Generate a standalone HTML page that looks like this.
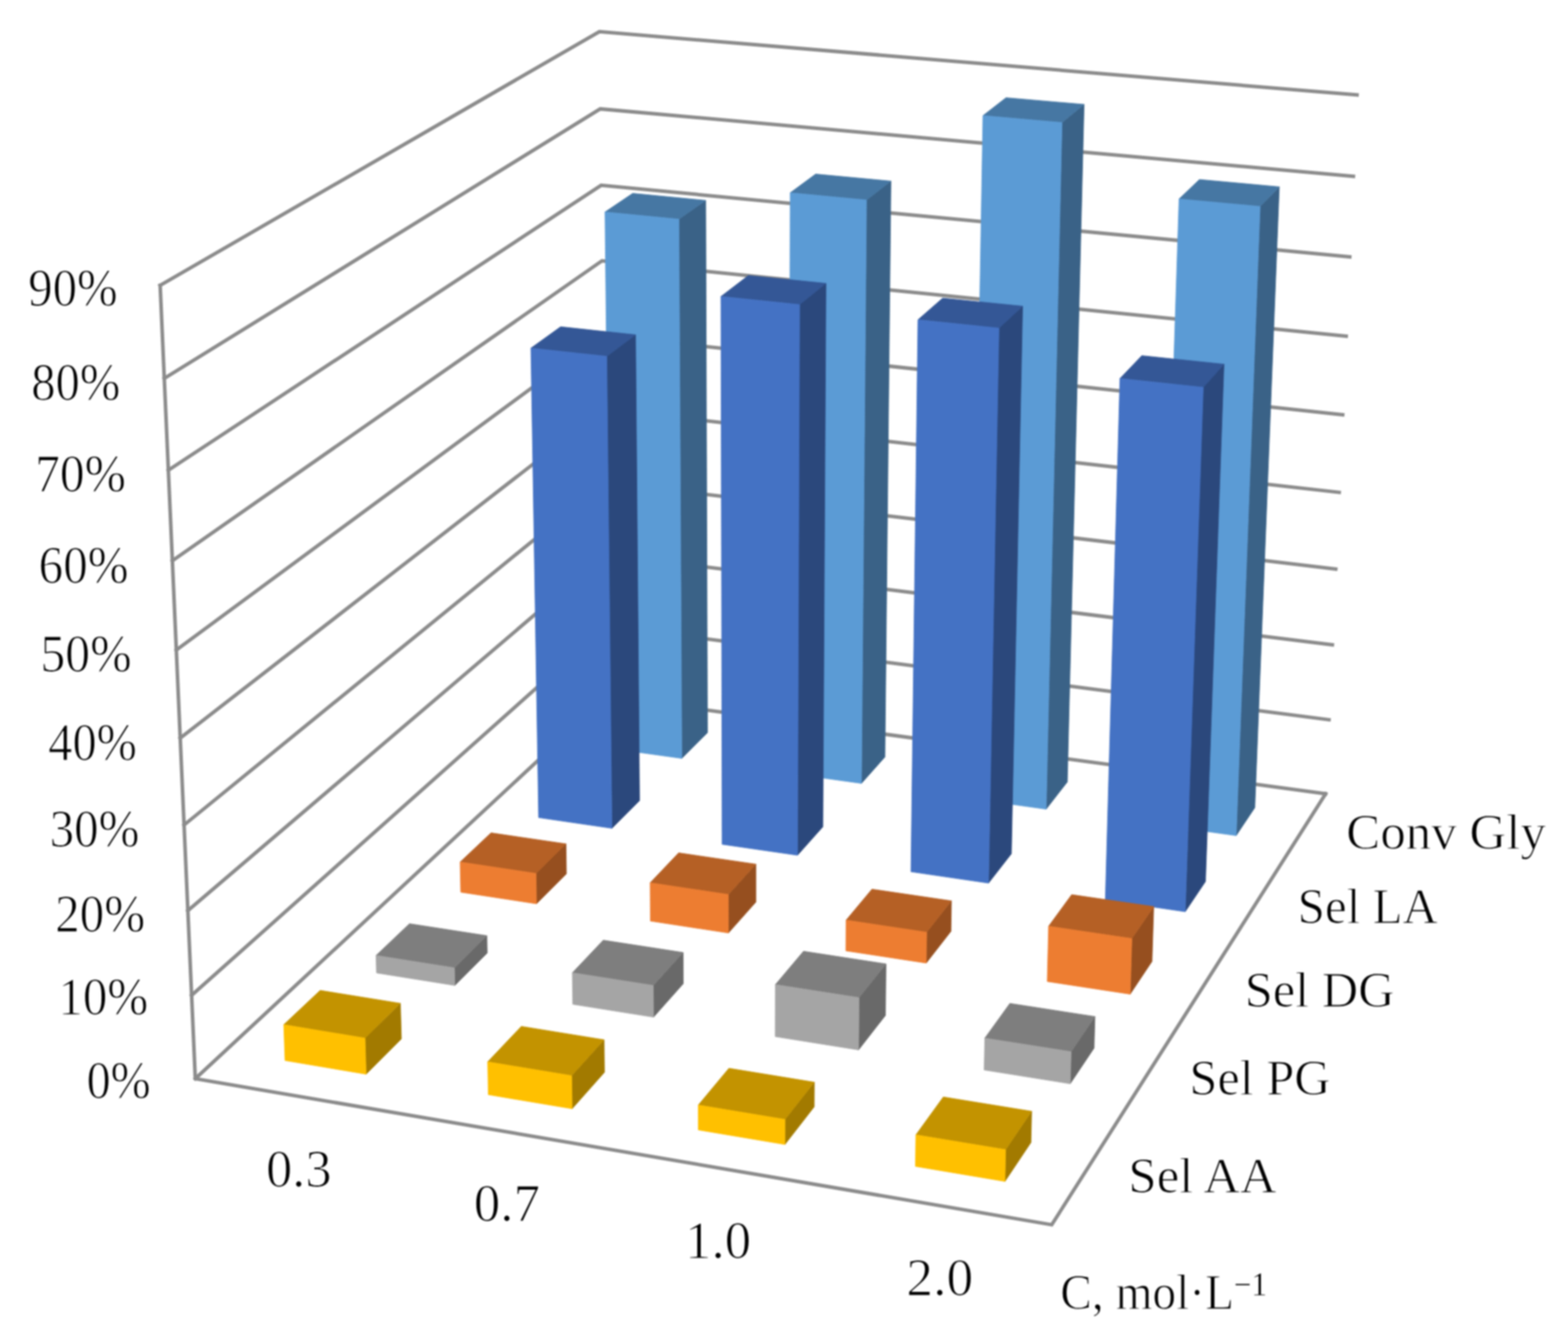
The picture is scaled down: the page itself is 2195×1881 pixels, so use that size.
<!DOCTYPE html>
<html lang="en">
<head>
<meta charset="utf-8">
<title>Conversion and selectivity vs. concentration</title>
<style>
html,body{margin:0;padding:0;background:#fff;}
body{width:2195px;height:1881px;overflow:hidden;}
svg{display:block;}
</style>
</head>
<body>
<svg width="2195" height="1881" viewBox="0 0 2195 1881">
<rect width="2195" height="1881" fill="#fff"/>
<defs><filter id="soft" x="0" y="0" width="2195" height="1881" filterUnits="userSpaceOnUse" color-interpolation-filters="sRGB"><feGaussianBlur stdDeviation="1.10"/></filter></defs>
<g filter="url(#soft)">
<g fill="none" stroke="#8b8b8b" stroke-width="5.00" stroke-linecap="square" stroke-linejoin="miter">
<polyline points="273.4,1509.7 849.5,974.9 1855.7,1111.0"/>
<polyline points="268.3,1392.9 848.4,876.0 1860.4,1007.3"/>
<polyline points="263.0,1274.5 847.3,776.0 1865.1,902.5"/>
<polyline points="257.7,1154.6 846.2,675.0 1869.9,796.4"/>
<polyline points="252.3,1033.0 845.0,572.8 1874.7,689.1"/>
<polyline points="246.8,909.7 843.9,469.5 1879.6,580.5"/>
<polyline points="241.3,784.8 842.7,365.0 1884.5,470.6"/>
<polyline points="235.7,658.1 841.5,259.3 1889.5,359.4"/>
<polyline points="230.0,529.6 840.3,152.4 1894.6,246.8"/>
<polyline points="224.2,399.3 839.1,44.3 1899.7,132.9"/>
<polyline points="224.2,399.3 273.4,1509.7 1472.3,1714.1 1855.7,1111.0"/>
</g>
<g stroke-width="0.8" stroke-linejoin="round"><polygon points="954.4,1061.4 990.4,1025.4 987.9,280.4 950.4,306.8" fill="#3a6287" stroke="#3a6287"/><polygon points="846.9,296.7 950.4,306.8 987.9,280.4 885.7,270.6" fill="#4677a3" stroke="#4677a3"/><polygon points="855.1,1047.6 954.4,1061.4 950.4,306.8 846.9,296.7" fill="#5b9bd5" stroke="#5b9bd5"/><polygon points="1205.9,1096.4 1238.8,1059.5 1247.2,253.4 1213.0,279.9" fill="#3a6287" stroke="#3a6287"/><polygon points="1106.2,269.8 1213.0,279.9 1247.2,253.4 1141.8,243.6" fill="#4677a3" stroke="#4677a3"/><polygon points="1103.8,1082.2 1205.9,1096.4 1213.0,279.9 1106.2,269.8" fill="#5b9bd5" stroke="#5b9bd5"/><polygon points="1464.5,1132.5 1494.1,1094.4 1517.6,146.1 1486.7,171.5" fill="#3a6287" stroke="#3a6287"/><polygon points="1376.0,161.8 1486.7,171.5 1517.6,146.1 1408.3,136.7" fill="#4677a3" stroke="#4677a3"/><polygon points="1359.5,1117.8 1464.5,1132.5 1486.7,171.5 1376.0,161.8" fill="#5b9bd5" stroke="#5b9bd5"/><polygon points="1730.5,1169.5 1756.6,1130.4 1790.9,261.4 1764.0,288.9" fill="#3a6287" stroke="#3a6287"/><polygon points="1650.5,278.4 1764.0,288.9 1790.9,261.4 1679.0,251.2" fill="#4677a3" stroke="#4677a3"/><polygon points="1622.4,1154.5 1730.5,1169.5 1764.0,288.9 1650.5,278.4" fill="#5b9bd5" stroke="#5b9bd5"/></g>
<g stroke-width="0.8" stroke-linejoin="round"><polygon points="856.6,1159.3 895.3,1120.5 889.7,468.5 849.4,498.7" fill="#2b487c" stroke="#2b487c"/><polygon points="743.2,487.2 849.4,498.7 889.7,468.5 784.8,457.3" fill="#345796" stroke="#345796"/><polygon points="754.0,1144.3 856.6,1159.3 849.4,498.7 743.2,487.2" fill="#4472c4" stroke="#4472c4"/><polygon points="1116.4,1197.0 1151.9,1157.2 1156.2,396.6 1119.3,426.3" fill="#2b487c" stroke="#2b487c"/><polygon points="1009.2,414.9 1119.3,426.3 1156.2,396.6 1047.6,385.6" fill="#345796" stroke="#345796"/><polygon points="1010.9,1181.7 1116.4,1197.0 1119.3,426.3 1009.2,414.9" fill="#4472c4" stroke="#4472c4"/><polygon points="1383.8,1236.0 1415.8,1194.9 1431.5,428.5 1398.4,459.2" fill="#2b487c" stroke="#2b487c"/><polygon points="1285.0,447.5 1398.4,459.2 1431.5,428.5 1319.6,417.2" fill="#345796" stroke="#345796"/><polygon points="1275.2,1220.1 1383.8,1236.0 1398.4,459.2 1285.0,447.5" fill="#4472c4" stroke="#4472c4"/><polygon points="1659.2,1276.0 1687.5,1233.8 1713.4,509.7 1684.4,542.1" fill="#2b487c" stroke="#2b487c"/><polygon points="1567.8,529.7 1684.4,542.1 1713.4,509.7 1598.4,497.7" fill="#345796" stroke="#345796"/><polygon points="1547.3,1259.7 1659.2,1276.0 1684.4,542.1 1567.8,529.7" fill="#4472c4" stroke="#4472c4"/></g>
<g stroke-width="0.8" stroke-linejoin="round"><polygon points="751.0,1264.9 792.9,1223.0 792.3,1181.0 750.3,1222.4" fill="#964f1f" stroke="#964f1f"/><polygon points="644.1,1206.4 750.3,1222.4 792.3,1181.0 687.4,1165.6" fill="#b56025" stroke="#b56025"/><polygon points="645.0,1248.7 751.0,1264.9 750.3,1222.4 644.1,1206.4" fill="#ed7d31" stroke="#ed7d31"/><polygon points="1019.7,1305.8 1058.1,1262.6 1058.1,1209.4 1019.6,1251.9" fill="#964f1f" stroke="#964f1f"/><polygon points="910.1,1235.5 1019.6,1251.9 1058.1,1209.4 950.0,1193.6" fill="#b56025" stroke="#b56025"/><polygon points="910.5,1289.1 1019.7,1305.8 1019.6,1251.9 910.1,1235.5" fill="#ed7d31" stroke="#ed7d31"/><polygon points="1296.6,1347.9 1331.2,1303.5 1331.9,1260.8 1297.2,1304.7" fill="#964f1f" stroke="#964f1f"/><polygon points="1184.4,1287.8 1297.2,1304.7 1331.9,1260.8 1220.6,1244.4" fill="#b56025" stroke="#b56025"/><polygon points="1184.1,1330.8 1296.6,1347.9 1297.2,1304.7 1184.4,1287.8" fill="#ed7d31" stroke="#ed7d31"/><polygon points="1582.1,1391.4 1612.7,1345.6 1615.1,1268.8 1584.4,1313.6" fill="#964f1f" stroke="#964f1f"/><polygon points="1467.9,1296.3 1584.4,1313.6 1615.1,1268.8 1500.2,1252.1" fill="#b56025" stroke="#b56025"/><polygon points="1466.0,1373.7 1582.1,1391.4 1584.4,1313.6 1467.9,1296.3" fill="#ed7d31" stroke="#ed7d31"/></g>
<g stroke-width="0.8" stroke-linejoin="round"><polygon points="636.7,1379.2 682.1,1333.8 681.6,1309.5 636.1,1354.6" fill="#696969" stroke="#696969"/><polygon points="526.4,1337.2 636.1,1354.6 681.6,1309.5 573.2,1292.7" fill="#7e7e7e" stroke="#7e7e7e"/><polygon points="527.1,1361.7 636.7,1379.2 636.1,1354.6 526.4,1337.2" fill="#a5a5a5" stroke="#a5a5a5"/><polygon points="914.9,1423.6 956.5,1376.8 956.3,1333.0 914.5,1379.2" fill="#696969" stroke="#696969"/><polygon points="801.2,1361.4 914.5,1379.2 956.3,1333.0 844.5,1315.8" fill="#7e7e7e" stroke="#7e7e7e"/><polygon points="801.8,1405.6 914.9,1423.6 914.5,1379.2 801.2,1361.4" fill="#a5a5a5" stroke="#a5a5a5"/><polygon points="1201.9,1469.4 1239.5,1421.2 1240.3,1349.0 1202.5,1396.3" fill="#696969" stroke="#696969"/><polygon points="1085.4,1378.0 1202.5,1396.3 1240.3,1349.0 1124.8,1331.3" fill="#7e7e7e" stroke="#7e7e7e"/><polygon points="1085.2,1450.8 1201.9,1469.4 1202.5,1396.3 1085.4,1378.0" fill="#a5a5a5" stroke="#a5a5a5"/><polygon points="1498.2,1516.8 1531.6,1466.9 1532.8,1422.7 1499.4,1471.9" fill="#696969" stroke="#696969"/><polygon points="1378.6,1452.9 1499.4,1471.9 1532.8,1422.7 1413.7,1404.3" fill="#7e7e7e" stroke="#7e7e7e"/><polygon points="1377.7,1497.5 1498.2,1516.8 1499.4,1471.9 1378.6,1452.9" fill="#a5a5a5" stroke="#a5a5a5"/></g>
<g stroke-width="0.8" stroke-linejoin="round"><polygon points="512.5,1503.4 561.9,1454.0 560.5,1404.2 511.0,1452.9" fill="#a27a00" stroke="#a27a00"/><polygon points="397.2,1434.1 511.0,1452.9 560.5,1404.2 448.2,1386.1" fill="#c39300" stroke="#c39300"/><polygon points="399.0,1484.3 512.5,1503.4 511.0,1452.9 397.2,1434.1" fill="#ffc000" stroke="#ffc000"/><polygon points="800.9,1551.8 846.2,1500.8 845.7,1455.2 800.2,1505.5" fill="#a27a00" stroke="#a27a00"/><polygon points="682.7,1486.1 800.2,1505.5 845.7,1455.2 729.8,1436.4" fill="#c39300" stroke="#c39300"/><polygon points="683.6,1532.1 800.9,1551.8 800.2,1505.5 682.7,1486.1" fill="#ffc000" stroke="#ffc000"/><polygon points="1098.8,1601.8 1139.8,1549.1 1140.0,1514.6 1098.9,1566.7" fill="#a27a00" stroke="#a27a00"/><polygon points="977.5,1546.6 1098.9,1566.7 1140.0,1514.6 1020.4,1495.1" fill="#c39300" stroke="#c39300"/><polygon points="977.6,1581.4 1098.8,1601.8 1098.9,1566.7 977.5,1546.6" fill="#ffc000" stroke="#ffc000"/><polygon points="1406.8,1653.5 1443.2,1599.1 1444.2,1555.3 1407.7,1609.0" fill="#a27a00" stroke="#a27a00"/><polygon points="1282.1,1588.3 1407.7,1609.0 1444.2,1555.3 1320.5,1535.2" fill="#c39300" stroke="#c39300"/><polygon points="1281.5,1632.4 1406.8,1653.5 1407.7,1609.0 1282.1,1588.3" fill="#ffc000" stroke="#ffc000"/></g>
<g font-family="'Liberation Serif', 'DejaVu Serif', serif" font-size="72" fill="#000" stroke="#fff" stroke-width="1.20" stroke-linejoin="round">
<text transform="translate(39.55 428.30) scale(0.9484 1.0213)">90%</text>
<text transform="translate(43.67 560.10) scale(0.9444 1.0234)">80%</text>
<text transform="translate(49.18 688.20) scale(0.9637 1.0234)">70%</text>
<text transform="translate(54.09 816.30) scale(0.9536 1.0255)">60%</text>
<text transform="translate(56.46 940.40) scale(0.9685 1.0277)">50%</text>
<text transform="translate(67.62 1064.40) scale(0.9386 1.0213)">40%</text>
<text transform="translate(69.49 1184.60) scale(0.9520 1.0255)">30%</text>
<text transform="translate(77.29 1304.30) scale(0.9536 1.0170)">20%</text>
<text transform="translate(81.63 1420.40) scale(0.9533 1.0277)">10%</text>
<text transform="translate(121.19 1536.60) scale(0.9356 1.0255)">0%</text>
<text transform="translate(372.45 1661.00) scale(1.0179 1.0383)">0.3</text>
<text transform="translate(663.31 1708.80) scale(1.0298 1.0298)">0.7</text>
<text transform="translate(959.02 1760.90) scale(1.0262 1.0383)">1.0</text>
<text transform="translate(1268.85 1813.10) scale(1.0386 1.0383)">2.0</text>
<text transform="translate(1884.52 1188.20) scale(0.9917 0.9700)">Conv Gly</text>
<text transform="translate(1816.53 1292.50) scale(0.9535 0.9700)">Sel LA</text>
<text transform="translate(1742.50 1408.80) scale(0.9806 0.9700)">Sel DG</text>
<text transform="translate(1665.11 1532.30) scale(0.9778 0.9700)">Sel PG</text>
<text transform="translate(1579.55 1668.80) scale(0.9892 0.9700)">Sel AA</text>
<text transform="translate(1484.24 1832.50) scale(0.9214 0.9700)">C, mol·L<tspan dy="-20" font-size="47" stroke-width="0.5">−1</tspan></text>
</g>
</g>
</svg>
</body>
</html>
